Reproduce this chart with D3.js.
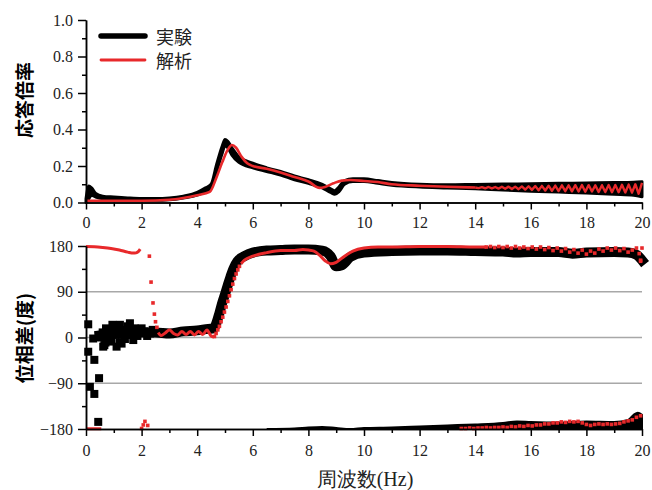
<!DOCTYPE html>
<html>
<head>
<meta charset="utf-8">
<script src="https://cdn.jsdelivr.net/npm/d3@7"></script>
<style>
  body { margin: 0; background: #fff; }
  svg { display: block; }
</style>
</head>
<body>
<div id="chart"></div>
<script>
// ---- 応答倍率 (上段) ----
// 実験: 太い黒線の下端と上端
var ampFreq  = [0, 0.1, 0.2, 0.35, 0.6, 1.0, 1.5, 2.0, 2.5, 3.0, 3.5, 4.0, 4.3, 4.5, 4.7, 4.9, 5.0, 5.1, 5.25, 5.5, 6.0, 6.5, 7.0, 7.5, 8.0, 8.5, 8.8, 8.95, 9.1, 9.3, 9.6, 10.0, 10.5, 11.0, 12.0, 13.0, 14.0, 15.0, 16.0, 17.0, 18.0, 19.0, 19.7, 20.0];
var expAmpLo = [0.0, 0.02, 0.04, 0.03, 0.02, 0.015, 0.015, 0.012, 0.012, 0.015, 0.025, 0.04, 0.06, 0.08, 0.17, 0.27, 0.31, 0.30, 0.26, 0.22, 0.19, 0.17, 0.15, 0.125, 0.105, 0.08, 0.055, 0.045, 0.06, 0.10, 0.115, 0.115, 0.105, 0.095, 0.085, 0.08, 0.075, 0.068, 0.062, 0.057, 0.052, 0.045, 0.04, 0.032];
var expAmpHi = [0.02, 0.09, 0.08, 0.05, 0.035, 0.03, 0.025, 0.022, 0.022, 0.025, 0.035, 0.055, 0.08, 0.10, 0.21, 0.31, 0.345, 0.335, 0.30, 0.25, 0.215, 0.19, 0.17, 0.145, 0.125, 0.10, 0.075, 0.065, 0.085, 0.12, 0.13, 0.13, 0.12, 0.11, 0.10, 0.097, 0.099, 0.101, 0.103, 0.105, 0.107, 0.109, 0.111, 0.114];

// 解析: 赤線
var anaAmpFreq = [0, 1, 2, 3, 3.5, 4, 4.45, 4.7, 4.9, 5.1, 5.25, 5.4, 5.6, 5.8, 6.0, 6.5, 7.0, 7.5, 8.0, 8.4, 8.6, 8.9, 9.2, 9.5, 10.0, 10.5, 11.0, 12.0, 13.0, 14.0];
var anaAmpVal  = [0.01, 0.01, 0.01, 0.015, 0.025, 0.04, 0.058, 0.14, 0.22, 0.29, 0.315, 0.30, 0.25, 0.215, 0.20, 0.185, 0.165, 0.14, 0.115, 0.08, 0.085, 0.105, 0.12, 0.123, 0.118, 0.112, 0.10, 0.092, 0.086, 0.082];
// 14 Hz 以降のジグザグ (0.12 Hz 刻み)
var anaZigStart = 14.0, anaZigStep = 0.12;
var anaAmpZig = [0.082, 0.079, 0.084, 0.078, 0.085, 0.077, 0.085, 0.076, 0.086, 0.075, 0.087, 0.074, 0.087, 0.073, 0.088, 0.071, 0.089, 0.069, 0.090, 0.067, 0.091, 0.066, 0.092, 0.064, 0.093, 0.063, 0.094, 0.062, 0.094, 0.061, 0.095, 0.060, 0.096, 0.059, 0.095, 0.060, 0.094, 0.058, 0.095, 0.057, 0.096, 0.056, 0.096, 0.056, 0.097, 0.055, 0.098, 0.054, 0.100, 0.048, 0.108];

// ---- 位相差 (下段) ----
// 実験: 主な帯の中心
var expPhFreq = [0.5, 1.0, 1.5, 2.0, 2.5, 3.0, 3.5, 4.0, 4.4, 4.6, 4.7, 4.8, 4.9, 5.0, 5.1, 5.2, 5.3, 5.45, 5.7, 6.0, 6.5, 7.0, 7.5, 8.0, 8.5, 8.8, 9.0, 9.2, 9.5, 10.0, 11.0, 12.0, 13.0, 14.0, 15.0, 15.5, 16.0, 17.0, 17.5, 18.0, 19.0, 19.5, 19.8, 20.0];
var expPhDeg  = [4, 8, 10, 10, 10, 8, 12, 14, 17, 18, 30, 48, 68, 85, 103, 120, 135, 150, 160, 167, 171, 172, 173, 173, 171, 160, 140, 142, 158, 167, 170, 171, 171, 170, 169, 167, 168, 168, 165, 167, 168, 167, 163, 152];
// 実験: 低周波のばらついた点
var expScatFreq = [0.08, 0.08, 0.30, 0.14, 0.30, 0.47, 0.44, 0.26, 0.45, 0.62, 0.70, 0.85, 0.98, 1.10, 1.00, 1.22, 1.30, 1.58, 1.70, 1.45, 0.55, 0.75,
                   1.90, 2.10, 2.30, 0.60, 0.66, 0.80, 0.90, 1.05, 1.15, 1.20, 1.35, 1.40, 1.50, 1.62, 1.75, 1.85, 2.00, 2.20, 2.40, 0.72, 0.95, 1.28, 1.12];
var expScatDeg  = [26, -28, -44, -97, -111, -80, -166, -2, 5, -18, -10, 8, 15, -18, 20, 25, 5, 28, -5, 10, 0, -5,
                   15, 12, 8, 10, -15, 15, -8, 5, 20, -10, 15, -3, 22, 5, 18, 3, 18, 3, 15, 18, 25, -12, 12];
// 実験: -180 付近の帯 (上端)
var expLowFreq = [6.5, 7.5, 8.0, 8.5, 9.0, 9.5, 10.0, 11.0, 12.0, 13.0, 14.0, 15.0, 15.5, 16.0, 17.0, 18.0, 19.0, 19.5, 19.7, 19.85, 20.0];
var expLowTop  = [-180, -179, -177, -176, -178, -180, -178, -177, -175, -173, -171, -168, -165, -166, -167, -165, -166, -162, -152, -148, -152];

// 解析: 線で見える部分
var anaPhFreqA = [0, 0.3, 0.6, 0.9, 1.2, 1.5, 1.7, 1.8, 1.88, 1.95];
var anaPhA     = [179, 178.5, 177, 175, 172, 168, 166, 166.5, 169, 174];
var anaPhFreqB = [2.6, 2.7, 2.85, 3.0, 3.15, 3.3, 3.45, 3.6, 3.75, 3.9, 4.05, 4.2, 4.35, 4.5, 4.6];
var anaPhB     = [10, 4, 9, 15, 8, 5, 12, 6, 12, 5, 12, 6, 15, 3, 1];
var anaPhFreqC = [5.58, 5.7, 6.0, 6.5, 7.0, 7.5, 7.8, 8.0, 8.2, 8.4, 8.6, 8.8, 9.0, 9.3, 9.6, 10.0, 10.5, 11.0, 12.0, 13.0, 14.0, 14.4];
var anaPhC     = [145, 152, 160, 167, 171, 171, 173, 172, 170, 162, 151, 145, 148, 160, 170, 176, 178, 178, 179, 179, 178, 178];
var anaStubFreq = [0, 0.55];
var anaStubDeg  = [-179.5, -179.5];
// 解析: 点で見える部分
var anaDotFreq = [2.0, 2.06, 2.12, 2.22, 2.28, 2.34, 2.41, 2.46, 2.50, 2.55, 4.62, 4.68, 4.74, 4.80, 4.86, 4.92, 4.98, 5.04, 5.10, 5.16, 5.22, 5.28, 5.34, 5.40, 5.46, 5.52, 19.9, 19.95, 20.0];
var anaDotDeg  = [-179, -172, -165, -173, 160, 109, 68, 46, 31, 20, 2, 8, 15, 22, 31, 40, 50, 60, 71, 82, 94, 105, 116, 125, 133, 140, 165, 150, 176];
// 14.4 Hz 以降の +180 付近 / 13.5 Hz 以降の -180 付近 (0.15 Hz 刻み)
var anaZigStep2 = 0.15;
var anaUpStart = 14.4;
var anaUpDeg = [178, 179, 177, 179, 177, 179, 176, 179, 176, 178, 175, 178, 174, 178, 173, 177, 171, 176, 170, 175, 168, 173, 166, 172, 164, 170, 166, 174, 170, 176, 172, 176, 171, 175, 168, 172, 176, 152];
var anaLowStart = 13.5;
var anaLowDeg = [-179, -179, -178, -179, -178, -178, -177, -178, -177, -177, -176, -177, -175, -176, -174, -175, -173, -174, -172, -172, -170, -170, -168, -168, -166, -167, -165, -166, -165, -168, -171, -173, -171, -170, -171, -170, -171, -170, -169, -166, -164, -162, -157, -154];

var xTicks = [0, 2, 4, 6, 8, 10, 12, 14, 16, 18, 20];
var ampTicks = [0, 0.2, 0.4, 0.6, 0.8, 1.0];
var phTicks = [-180, -90, 0, 90, 180];
var phGrid = [-90, 0, 90];

var RED = "#e8292b";
var SERIF = "'Liberation Serif', 'Times New Roman', Times, serif";
var GOTHIC = "'Noto Sans CJK JP', sans-serif";

var W = 652, H = 490;
var svg = d3.select("#chart").append("svg").attr("width", W).attr("height", H);

var x = d3.scaleLinear().domain([0, 20]).range([86, 642]);
var yA = d3.scaleLinear().domain([0, 1]).range([202.5, 20]);
var yP = d3.scaleLinear().domain([-180, 180]).range([429, 246]);

function zip(fs, vs) { return fs.map(function (f, i) { return [f, vs[i]]; }); }
function grid(start, step, vs) { return vs.map(function (v, i) { return [start + i * step, v]; }); }

// ---- grid lines (下段) ----
svg.append("g").selectAll("line").data(phGrid).enter().append("line")
  .attr("x1", x(0)).attr("x2", x(20))
  .attr("y1", function (d) { return yP(d); }).attr("y2", function (d) { return yP(d); })
  .attr("stroke", "#a8a8a8").attr("stroke-width", 1.3);

// ---- 上段: 実験 ----
var ampExp = ampFreq.map(function (f, i) { return { f: f, lo: expAmpLo[i], hi: expAmpHi[i] }; });
var areaA = d3.area().curve(d3.curveMonotoneX)
  .x(function (d) { return x(d.f); })
  .y0(function (d) { return yA(d.lo); })
  .y1(function (d) { return yA(d.hi); });
svg.append("path").datum(ampExp).attr("d", areaA)
  .attr("fill", "#000").attr("stroke", "#000").attr("stroke-width", 3).attr("stroke-linejoin", "round");

// ---- 上段: 解析 ----
var lineA = d3.line().x(function (d) { return x(d[0]); }).y(function (d) { return yA(d[1]); });
svg.append("path").datum(zip(anaAmpFreq, anaAmpVal)).attr("d", lineA.curve(d3.curveMonotoneX))
  .attr("fill", "none").attr("stroke", RED).attr("stroke-width", 2.6).attr("stroke-linejoin", "round");
svg.append("path").datum(grid(anaZigStart, anaZigStep, anaAmpZig)).attr("d", d3.line().x(function (d) { return x(d[0]); }).y(function (d) { return yA(d[1]); }))
  .attr("fill", "none").attr("stroke", RED).attr("stroke-width", 2.4).attr("stroke-linejoin", "round");

// ---- 下段: 実験 ----
var lineP = d3.line().curve(d3.curveMonotoneX).x(function (d) { return x(d[0]); }).y(function (d) { return yP(d[1]); });
svg.append("path").datum(zip(expPhFreq, expPhDeg)).attr("d", lineP)
  .attr("fill", "none").attr("stroke", "#000").attr("stroke-width", 10).attr("stroke-linejoin", "round").attr("stroke-linecap", "square");

var areaLow = d3.area().curve(d3.curveMonotoneX)
  .x(function (d) { return x(d[0]); })
  .y0(yP(-180))
  .y1(function (d) { return yP(d[1]); });
svg.append("path").datum(zip(expLowFreq, expLowTop)).attr("d", areaLow)
  .attr("fill", "#000").attr("stroke", "#000").attr("stroke-width", 2);

var sq = 8;
svg.append("g").selectAll("rect").data(zip(expScatFreq, expScatDeg)).enter().append("rect")
  .attr("x", function (d) { return x(d[0]) - sq / 2; })
  .attr("y", function (d) { return yP(d[1]) - sq / 2; })
  .attr("width", sq).attr("height", sq).attr("fill", "#000");

// ---- 下段: 解析 ----
[[anaPhFreqA, anaPhA], [anaPhFreqB, anaPhB], [anaPhFreqC, anaPhC], [anaStubFreq, anaStubDeg]].forEach(function (s) {
  svg.append("path").datum(zip(s[0], s[1])).attr("d", lineP)
    .attr("fill", "none").attr("stroke", RED).attr("stroke-width", 3).attr("stroke-linejoin", "round");
});

var dots = zip(anaDotFreq, anaDotDeg)
  .concat(grid(anaUpStart, anaZigStep2, anaUpDeg))
  .concat(grid(anaLowStart, anaZigStep2, anaLowDeg));
var ds = 3.6;
svg.append("g").selectAll("rect").data(dots).enter().append("rect")
  .attr("x", function (d) { return x(d[0]) - ds / 2; })
  .attr("y", function (d) { return yP(d[1]) - ds / 2; })
  .attr("width", ds).attr("height", ds).attr("fill", RED);

// ---- axes ----
function styleAxis(g) {
  g.selectAll("path.domain").attr("stroke", "#000").attr("stroke-width", 1.5);
  g.selectAll(".tick line").attr("stroke", "#000").attr("stroke-width", 1.5);
  g.selectAll(".tick text").style("font-family", SERIF).style("font-size", "16px").attr("fill", "#222");
}
var minorX = d3.range(1, 20, 2);

// 上段
svg.append("g").attr("transform", "translate(0," + yA(0) + ")")
  .call(d3.axisBottom(x).tickValues(minorX).tickSize(4).tickSizeOuter(0).tickFormat(""))
  .call(styleAxis);
svg.append("g").attr("transform", "translate(0," + yA(0) + ")")
  .call(d3.axisBottom(x).tickValues(xTicks).tickSize(7).tickSizeOuter(0).tickPadding(7).tickFormat(d3.format("d")))
  .call(styleAxis);
svg.append("g").attr("transform", "translate(" + x(0) + ",0)")
  .call(d3.axisLeft(yA).tickValues([0.1, 0.3, 0.5, 0.7, 0.9]).tickSize(4).tickSizeOuter(0).tickFormat(""))
  .call(styleAxis);
svg.append("g").attr("transform", "translate(" + x(0) + ",0)")
  .call(d3.axisLeft(yA).tickValues(ampTicks).tickSize(8).tickSizeOuter(0).tickPadding(5).tickFormat(d3.format(".1f")))
  .call(styleAxis);

// 下段
svg.append("g").attr("transform", "translate(0," + yP(-180) + ")")
  .call(d3.axisBottom(x).tickValues(minorX).tickSize(4).tickSizeOuter(0).tickFormat(""))
  .call(styleAxis);
svg.append("g").attr("transform", "translate(0," + yP(-180) + ")")
  .call(d3.axisBottom(x).tickValues(xTicks).tickSize(7).tickSizeOuter(0).tickPadding(9).tickFormat(d3.format("d")))
  .call(styleAxis);
svg.append("g").attr("transform", "translate(" + x(0) + ",0)")
  .call(d3.axisLeft(yP).tickValues([-135, -45, 45, 135]).tickSize(4).tickSizeOuter(0).tickFormat(""))
  .call(styleAxis);
svg.append("g").attr("transform", "translate(" + x(0) + ",0)")
  .call(d3.axisLeft(yP).tickValues(phTicks).tickSize(8).tickSizeOuter(0).tickPadding(5).tickFormat(d3.format("d")))
  .call(styleAxis);

// ---- titles ----
svg.append("text").attr("transform", "translate(23,100) rotate(-90)")
  .attr("text-anchor", "middle").attr("dominant-baseline", "central")
  .style("font-family", GOTHIC).style("font-size", "19px").style("font-weight", "bold")
  .text("応答倍率");
svg.append("text").attr("transform", "translate(23,338) rotate(-90)")
  .attr("text-anchor", "middle").attr("dominant-baseline", "central")
  .style("font-family", GOTHIC).style("font-size", "19px").style("font-weight", "bold")
  .text("位相差(度)");
svg.append("text").attr("x", 365).attr("y", 486).attr("text-anchor", "middle")
  .style("font-family", SERIF).style("font-size", "20px").style("fill", "#222")
  .text("周波数(Hz)");

// ---- legend ----
var legend = [{ name: "実験", color: "#000", w: 5.5, y: 36 }, { name: "解析", color: RED, w: 2.8, y: 60 }];
var lg = svg.append("g").selectAll("g").data(legend).enter().append("g");
lg.append("line").attr("x1", 101).attr("x2", 145)
  .attr("y1", function (d) { return d.y; }).attr("y2", function (d) { return d.y; })
  .attr("stroke", function (d) { return d.color; }).attr("stroke-width", function (d) { return d.w; })
  .attr("stroke-linecap", "round");
lg.append("text").attr("x", 156).attr("y", function (d) { return d.y; })
  .attr("dominant-baseline", "central")
  .style("font-family", GOTHIC).style("font-size", "18px").style("fill", "#222")
  .text(function (d) { return d.name; });
</script>
</body>
</html>
